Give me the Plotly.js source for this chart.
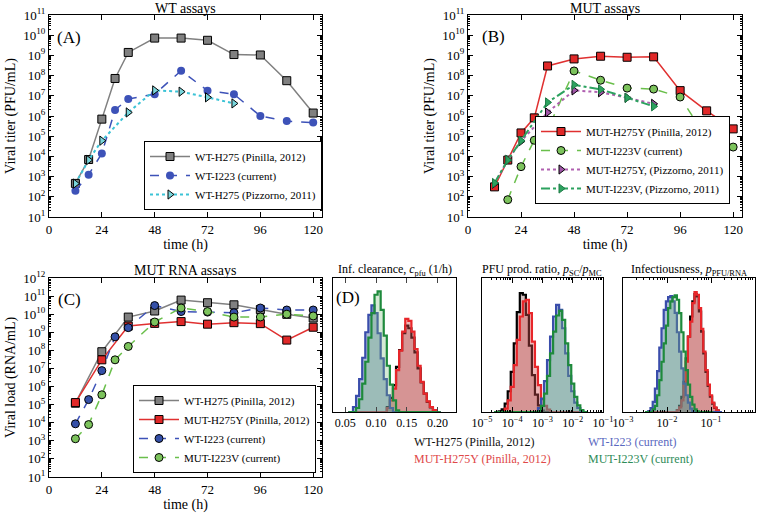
<!DOCTYPE html>
<html>
<head>
<meta charset="utf-8">
<script src="https://cdn.plot.ly/plotly-3.0.1.min.js"></script>
<style>html,body{margin:0;padding:0;background:#fff}#chart{width:760px;height:517px}</style>
</head>
<body>
<div id="chart"></div>
<script>
// ---------- Data: panels A-C (viral kinetics) ----------
const hours = [12, 18, 24, 30, 36, 48, 60, 72, 84, 96, 108, 120];
const hoursPizzorno = [12, 18, 24, 36, 48, 60, 72, 84];
const hoursMutCurrent = [18, 24, 30, 36, 48, 60, 72, 84, 96, 108, 120];
const hoursPinillaRNA = [12, 24, 36, 48, 60, 72, 84, 96, 108, 120];

// (A) WT assays, PFU/mL
const wtPinillaPFU = [4.6e2, 7e3, 7e5, 7.2e7, 1.4e9, 7.2e9, 7.2e9, 5.6e9, 1.1e9, 1.05e9, 5.6e7, 1.4e6];
const wtCurrentPFU = [2e2, 1.25e3, 1.4e4, 2e6, 7e6, 1.2e7, 1.75e8, 1.8e7, 1.2e7, 1e6, 5.6e5, 4.7e5];
const wtPizzornoPFU = [4.5e2, 6.6e3, 6e4, 1.5e6, 1.85e7, 1.6e7, 8.4e6, 4.2e6];

// (B) MUT assays, PFU/mL
const mutPinillaPFU = [3.1e2, 6.6e3, 1.45e5, 8.1e5, 3e8, 6.7e8, 9.1e8, 8.1e8, 8.5e8, 1.8e7, 1.8e6, 2.3e5];
const mutCurrentPFU = [72, 3.1e3, 6.3e4, 2.1e5, 1.7e8, 5.9e7, 2.4e7, 2.15e7, 8.7e6, 7.9e4, 2.9e4];
const mutH275YPizzornoPFU = [4.5e2, 6.6e3, 5.6e4, 1.5e6, 1.85e7, 1.5e7, 8e6, 4e6];
const mutI223VPizzornoPFU = [4.8e2, 6.6e3, 6e4, 4.7e6, 3.5e7, 2.1e7, 8e6, 3e6];

// (C) RNA assays, RNA/mL
const wtPinillaRNA = [1.2e5, 8.4e7, 6.9e9, 1.5e10, 6e10, 4.3e10, 3.3e10, 1.8e10, 9.8e9, 6.1e9];
const mutPinillaRNA = [1.3e5, 3e7, 2.2e9, 3.1e9, 3.9e9, 2.8e9, 3.4e9, 3e9, 3.7e8, 1.9e9];
const wtCurrentRNA = [8.7e3, 1.9e5, 7.6e6, 5.6e8, 1.8e9, 3e10, 1.4e10, 1.3e10, 1.2e10, 2.2e10, 1.7e10, 1.7e10];
const mutCurrentRNA = [1.3e3, 7.9e3, 3.5e5, 3e7, 1.65e8, 3.7e9, 2.2e10, 1.4e10, 6.9e9, 7e9, 1e10, 8e9];

// ---------- Data: panel D (posterior histograms, relative counts) ----------
const clearanceBins = [0.055,0.060,0.065,0.070,0.075,0.080,0.085,0.090,0.095,0.100,0.105,0.110,0.115,0.120,0.125,0.130,0.135,0.140,0.145,0.150,0.155,0.160,0.165,0.170,0.175,0.180,0.185,0.190,0.195,0.200,0.205];
const clearanceWTPinilla  = [0,0,0,0,0,0,0,0,0,0,0,0,0,15,42,80,135,185,235,258,250,222,178,130,88,55,30,14,5,0,0];
const clearanceMUTPinilla = [0,0,0,0,0,0,0,0,0,0,0,0,0,12,35,70,125,183,240,278,272,240,188,138,90,55,32,15,6,0,0];
const clearanceWTCurrent  = [0,0,15,48,98,162,238,290,318,295,235,160,98,50,12,0,0,0,0,0,0,0,0,0,0,0,0,0,0,0,0];
const clearanceMUTCurrent = [0,0,0,12,38,85,150,222,295,350,360,305,228,138,82,35,5,0,0,0,0,0,0,0,0,0,0,0,0,0,0];

const ratioLogBins = [-4.6,-4.5,-4.4,-4.3,-4.2,-4.1,-4.0,-3.9,-3.8,-3.7,-3.6,-3.5,-3.4,-3.3,-3.2,-3.1,-3.0,-2.9,-2.8,-2.7,-2.6,-2.5,-2.4,-2.3,-2.2,-2.1,-2.0,-1.9,-1.8,-1.7,-1.6,-1.5];
const ratioWTPinilla  = [0,0,2,8,25,62,120,205,298,355,350,290,198,110,52,20,4,0,0,0,0,0,0,0,0,0,0,0,0,0,0,0];
const ratioMUTPinilla = [0,0,0,0,10,35,75,140,215,285,330,335,295,210,135,80,38,18,7,0,0,0,0,0,0,0,0,0,0,0,0,0];
const ratioWTCurrent  = [0,0,0,0,0,0,0,0,0,0,0,0,0,0,0,12,40,92,155,225,285,320,305,250,175,108,62,28,12,3,0,0];
const ratioMUTCurrent = [0,0,0,0,0,0,0,0,0,0,0,0,0,0,0,2,18,55,108,175,240,288,302,275,205,140,85,45,20,6,0,0];

const infLogBins = [-2.50,-2.45,-2.40,-2.35,-2.30,-2.25,-2.20,-2.15,-2.10,-2.05,-2.00,-1.95,-1.90,-1.85,-1.80,-1.75,-1.70,-1.65,-1.60,-1.55,-1.50,-1.45,-1.40,-1.35,-1.30,-1.25,-1.20,-1.15,-1.10,-1.05,-1.00,-0.95,-0.90,-0.85,-0.80,-0.75];
const infWTPinilla  = [0,0,0,0,0,0,0,0,0,0,0,0,0,0,0,6,18,45,90,160,225,285,330,352,345,300,240,175,120,78,46,25,12,4,0,0];
const infMUTPinilla = [0,0,0,0,0,0,0,0,0,0,0,0,0,0,0,5,14,35,80,150,225,270,325,358,350,310,248,180,125,82,50,28,14,5,0,0];
const infWTCurrent  = [0,0,3,12,30,70,122,192,250,305,330,343,346,330,296,238,180,130,85,50,28,10,3,0,0,0,0,0,0,0,0,0,0,0,0,0];
const infMUTCurrent = [0,0,0,0,8,18,50,95,150,205,258,310,330,343,348,335,295,238,180,125,82,45,22,8,2,0,0,0,0,0,0,0];

// ---------- Tick labels ----------
const timeTicks = [0, 24, 48, 72, 96, 120];
const decadesPFU = [1,2,3,4,5,6,7,8,9,10,11];
const decadesRNA = [1,2,3,4,5,6,7,8,9,10,11,12];
const clearanceTicks = [0.05, 0.10, 0.15, 0.20];
const clearanceTickText = ['0.05', '0.10', '0.15', '0.20'];
const ratioDecades = [-5, -4, -3, -2, -1];
const infDecades = [-3, -2, -1, 0];

// ---------- Helpers ----------
const FONT = 'Liberation Serif';
const W = 760, H = 517;
const px = v => v / W;
const py = v => (H - v) / H;
const pow10 = e => Math.pow(10, e);
const sup = e => '10<sup>' + (e < 0 ? '\u2212' + (-e) : e) + '</sup>';
function minorLog(lo, hi) {
  const out = [];
  for (let e = lo; e < hi; e++) for (let k = 2; k <= 9; k++) out.push(k * Math.pow(10, e));
  return out;
}

const black = '#000000';
const traces = [];

function series(x, y, xa, ya, name, legend, opts) {
  traces.push(Object.assign({
    type: 'scatter', mode: 'lines+markers', x: x, y: y, xaxis: xa, yaxis: ya,
    name: name, legend: legend
  }, opts));
}

// Panel A
series(hours, wtPinillaPFU, 'x', 'y', 'WT-H275 (Pinilla, 2012)', 'legend', {
  line: {color: '#808080', width: 1.5},
  marker: {symbol: 'square', size: 8, color: '#808080', line: {color: black, width: 1}}
});
series(hours, wtCurrentPFU, 'x', 'y', 'WT-I223 (current)', 'legend', {
  line: {color: '#3d52b8', width: 1.5, dash: 'dash'},
  marker: {symbol: 'circle', size: 8, color: '#3d52b8', line: {color: '#3d52b8', width: 0}}
});
series(hoursPizzorno, wtPizzornoPFU, 'x', 'y', 'WT-H275 (Pizzorno, 2011)', 'legend', {
  line: {color: '#3cc3d6', width: 2, dash: 'dot'},
  marker: {symbol: 'triangle-right', size: 8, color: '#7ad6dc', line: {color: black, width: 1}}
});

// Panel B
series(hours, mutPinillaPFU, 'x2', 'y2', 'MUT-H275Y (Pinilla, 2012)', 'legend2', {
  line: {color: '#e03030', width: 1.5},
  marker: {symbol: 'square', size: 8, color: '#e02828', line: {color: black, width: 1}}
});
series(hoursMutCurrent, mutCurrentPFU, 'x2', 'y2', 'MUT-I223V (current)', 'legend2', {
  line: {color: '#6abf4b', width: 1.5, dash: 'dash'},
  marker: {symbol: 'circle', size: 8, color: '#7cc35c', line: {color: black, width: 1}}
});
series(hoursPizzorno, mutH275YPizzornoPFU, 'x2', 'y2', 'MUT-H275Y, (Pizzorno, 2011)', 'legend2', {
  line: {color: '#b060b0', width: 2, dash: 'dot'},
  marker: {symbol: 'triangle-right', size: 8, color: '#a055a8', line: {color: black, width: 1}}
});
series(hoursPizzorno, mutI223VPizzornoPFU, 'x2', 'y2', 'MUT-I223V, (Pizzorno, 2011)', 'legend2', {
  line: {color: '#2ca25f', width: 2, dash: 'dashdot'},
  marker: {symbol: 'triangle-right', size: 8, color: '#2ca25f', line: {color: '#1d7a45', width: 1}}
});

// Panel C
series(hoursPinillaRNA, wtPinillaRNA, 'x3', 'y3', 'WT-H275 (Pinilla, 2012)', 'legend3', {
  line: {color: '#808080', width: 1.5},
  marker: {symbol: 'square', size: 8, color: '#808080', line: {color: black, width: 1}}
});
series(hoursPinillaRNA, mutPinillaRNA, 'x3', 'y3', 'MUT-H275Y (Pinilla, 2012)', 'legend3', {
  line: {color: '#e03030', width: 1.5},
  marker: {symbol: 'square', size: 8, color: '#e02828', line: {color: black, width: 1}}
});
series(hours, wtCurrentRNA, 'x3', 'y3', 'WT-I223 (current)', 'legend3', {
  line: {color: '#3d52b8', width: 1.5, dash: 'dash'},
  marker: {symbol: 'circle', size: 8, color: '#3550a8', line: {color: black, width: 1}}
});
series(hours, mutCurrentRNA, 'x3', 'y3', 'MUT-I223V (current)', 'legend3', {
  line: {color: '#6abf4b', width: 1.5, dash: 'dash'},
  marker: {symbol: 'circle', size: 8, color: '#7cc35c', line: {color: black, width: 1}}
});

// Panel D histograms
const histStyles = [
  {key: 'WT-H275 (Pinilla, 2012)', line: '#000000', fill: 'rgba(120,50,50,0.30)'},
  {key: 'MUT-H275Y (Pinilla, 2012)', line: '#e8262a', fill: 'rgba(215,80,80,0.40)'},
  {key: 'WT-I223 (current)', line: '#3a4dab', fill: 'rgba(70,110,160,0.45)'},
  {key: 'MUT-I223V (current)', line: '#1e8a3c', fill: 'rgba(120,185,120,0.30)'}
];
function hist(x, ys, xa, ya) {
  ys.forEach((y, i) => {
    traces.push({
      type: 'scatter', mode: 'lines', x: x, y: y, xaxis: xa, yaxis: ya,
      showlegend: false, fill: 'tozeroy', fillcolor: histStyles[i].fill,
      line: {color: histStyles[i].line, width: 2.2, shape: 'hvh'},
      name: histStyles[i].key, hoverinfo: 'skip'
    });
  });
}
hist(clearanceBins, [clearanceWTPinilla, clearanceMUTPinilla, clearanceWTCurrent, clearanceMUTCurrent], 'x4', 'y4');
hist(ratioLogBins.map(pow10), [ratioWTPinilla, ratioMUTPinilla, ratioWTCurrent, ratioMUTCurrent], 'x5', 'y5');
hist(infLogBins.map(pow10), [infWTPinilla, infMUTPinilla, infWTCurrent, infMUTCurrent], 'x6', 'y6');

// ---------- Layout ----------
const tickFont = {family: FONT, size: 13, color: '#000'};
const dTickFont = {family: FONT, size: 12, color: '#000'};
const titleFont = {family: FONT, size: 14, color: '#000'};
function timeAxis(dom, anchor) {
  return {
    domain: dom, anchor: anchor, range: [0, 124], tickvals: timeTicks,
    ticks: 'inside', ticklen: 5, tickcolor: '#000', mirror: 'allticks',
    showline: true, linecolor: '#000', linewidth: 1, showgrid: false, zeroline: false,
    tickfont: tickFont, title: {text: 'time (h)', font: titleFont, standoff: 2}
  };
}
function logAxis(dom, anchor, decs, title, font) {
  const ax = {
    domain: dom, anchor: anchor, type: 'log', range: [decs[0], decs[decs.length - 1]],
    tickvals: decs.map(pow10), ticktext: decs.map(sup),
    ticks: 'inside', ticklen: 5, tickcolor: '#000', mirror: 'allticks',
    minor: {tickvals: minorLog(decs[0], decs[decs.length - 1]), ticks: 'inside', ticklen: 2, tickcolor: '#000'},
    showline: true, linecolor: '#000', linewidth: 1, showgrid: false, zeroline: false,
    tickfont: font || tickFont
  };
  if (title) ax.title = {text: title, font: titleFont, standoff: 4};
  return ax;
}
function histY(dom, anchor) {
  return {
    domain: dom, anchor: anchor, range: [0, 400], showticklabels: false, ticks: '',
    showline: true, mirror: true, linecolor: '#000', showgrid: false, zeroline: false, fixedrange: true
  };
}
const dDomY = [py(412), py(278)];

const legendBase = {
  bgcolor: '#ffffff', bordercolor: '#000', borderwidth: 1,
  font: {family: FONT, size: 11, color: '#000'}, xanchor: 'right', yanchor: 'bottom',
  tracegroupgap: 0, itemwidth: 40
};

function note(text, x, y, size, color, xanchor) {
  return {
    text: text, x: px(x), y: py(y), xref: 'paper', yref: 'paper', showarrow: false,
    xanchor: xanchor || 'center', yanchor: 'middle',
    font: {family: FONT, size: size, color: color || '#000'}
  };
}

const layout = {
  width: W, height: H, margin: {l: 0, r: 0, t: 0, b: 0},
  paper_bgcolor: '#fff', plot_bgcolor: '#fff', font: {family: FONT, color: '#000'},
  xaxis: timeAxis([px(49), px(322)], 'y'),
  yaxis: logAxis([py(217), py(15)], 'x', decadesPFU, 'Viral titer (PFU/mL)'),
  xaxis2: timeAxis([px(468), px(742)], 'y2'),
  yaxis2: logAxis([py(217), py(15)], 'x2', decadesPFU, 'Viral titer (PFU/mL)'),
  xaxis3: timeAxis([px(49), px(322)], 'y3'),
  yaxis3: logAxis([py(477), py(278)], 'x3', decadesRNA, 'Viral load (RNA/mL)'),
  xaxis4: {
    domain: [px(333), px(456)], anchor: 'y4', range: [0.03, 0.23],
    tickvals: clearanceTicks, ticktext: clearanceTickText,
    ticks: 'inside', ticklen: 5, mirror: 'allticks', showline: true, linecolor: '#000',
    showgrid: false, zeroline: false, tickfont: dTickFont
  },
  yaxis4: histY(dDomY, 'x4'),
  xaxis5: logAxis([px(482), px(603)], 'y5', ratioDecades, null, dTickFont),
  yaxis5: histY(dDomY, 'x5'),
  xaxis6: logAxis([px(623), px(755)], 'y6', infDecades, null, dTickFont),
  yaxis6: histY(dDomY, 'x6'),
  legend: Object.assign({}, legendBase, {x: px(322), y: py(210)}),
  legend2: Object.assign({}, legendBase, {x: px(730), y: py(204)}),
  legend3: Object.assign({}, legendBase, {x: px(316), y: py(473)}),
  showlegend: true,
  annotations: [
    note('WT assays', 185, 8, 14),
    note('MUT assays', 605, 8, 14),
    note('MUT RNA assays', 185, 270, 14),
    note('(A)', 69, 37, 17),
    note('(B)', 493, 36, 17),
    note('(C)', 69, 299, 17),
    note('(D)', 348, 297, 17),
    note('Inf. clearance, <i>c</i><sub>pfu</sub> (1/h)', 395, 270, 12),
    note('PFU prod. ratio, <i>p</i><sub>SC</sub>/<i>p</i><sub>MC</sub>', 542, 270, 12),
    note('Infectiousness, <i>p</i><sub>PFU/RNA</sub>', 689, 270, 12),
    note('WT-H275 (Pinilla, 2012)', 412, 442, 12, '#111', 'left'),
    note('MUT-H275Y (Pinilla, 2012)', 412, 459, 12, '#e04848', 'left'),
    note('WT-I223 (current)', 586, 442, 12, '#5a68c0', 'left'),
    note('MUT-I223V (current)', 586, 459, 12, '#2e8b57', 'left')
  ]
};

Plotly.newPlot('chart', traces, layout, {staticPlot: true, displayModeBar: false});
</script>
</body>
</html>
